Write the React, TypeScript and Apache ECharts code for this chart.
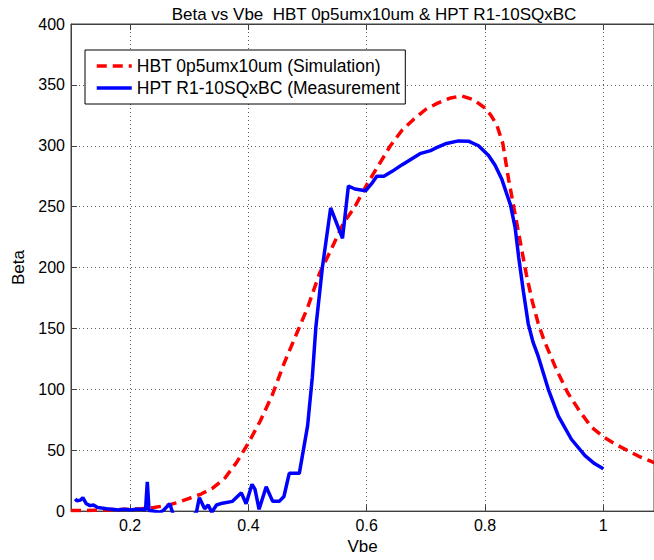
import React, { useEffect, useRef } from "react";
import * as echarts from "echarts";

const titleText = "Beta vs Vbe  HBT 0p5umx10um & HPT R1-10SQxBC";
const xAxisName = "Vbe";
const yAxisName = "Beta";
const seriesNames = ["HBT 0p5umx10um (Simulation)", "HPT R1-10SQxBC (Measurement"];

const xTickValues = [0.2, 0.4, 0.6, 0.8, 1.0];
const yTickStep = 50;

const simVbe = [
  0.1, 0.12, 0.14, 0.16, 0.18, 0.2, 0.22, 0.24, 0.26, 0.28, 0.3, 0.32, 0.34, 0.36, 0.38, 0.4,
  0.42, 0.44, 0.46, 0.48, 0.5, 0.52, 0.54, 0.56, 0.58, 0.6, 0.62, 0.64, 0.66, 0.68, 0.7, 0.72,
  0.74, 0.76, 0.78, 0.8, 0.81, 0.82, 0.83, 0.84, 0.85, 0.86, 0.87, 0.88, 0.89, 0.9, 0.92, 0.94,
  0.96, 0.98, 1.0, 1.02, 1.04, 1.06, 1.08, 1.1,
];
const simBeta = [
  0.4, 0.5, 0.7, 0.9, 1.2, 1.5, 2, 3, 4.5, 7, 10.5, 14, 19, 27, 40, 56,
  74, 95, 121, 144, 167, 195, 215, 236, 250, 268, 284, 300, 313, 322, 330, 335,
  339, 341, 338, 331, 325, 317, 302, 272, 246, 220, 194, 172, 154, 140, 117, 97,
  82, 69, 61, 55, 50, 45, 41, 37,
];

const measVbe = [
  0.107, 0.11, 0.116, 0.12, 0.126, 0.132, 0.138, 0.145, 0.152, 0.16, 0.17, 0.18, 0.19, 0.2,
  0.21, 0.22, 0.226, 0.229, 0.232, 0.24, 0.25, 0.256, 0.267, 0.275, 0.3, 0.312, 0.317, 0.326,
  0.332, 0.338, 0.346, 0.356, 0.373, 0.388, 0.396, 0.406, 0.411, 0.418, 0.43, 0.441, 0.452,
  0.46, 0.469, 0.486, 0.5, 0.508, 0.514, 0.525, 0.539, 0.559, 0.569, 0.58, 0.598, 0.61, 0.617,
  0.629, 0.643, 0.66, 0.675, 0.69, 0.708, 0.716, 0.733, 0.755, 0.772, 0.789, 0.806, 0.817,
  0.828, 0.843, 0.851, 0.857, 0.865, 0.873, 0.881, 0.89, 0.907, 0.924, 0.946, 0.969, 0.985, 1.0,
];
const measBeta = [
  10, 8.5, 9, 11, 6, 4.5, 5, 3, 2.5, 2, 1.5, 1, 1.5, 1,
  1.5, 1.5, 1, 24, 0.5, 0, -1, 0.5, 6, -6, -6, -1, 11, 2,
  5, -1, 5, 6.5, 8, 15, 6, 22, 18, 1.5, 20, 8, 8,
  12, 31, 31, 70, 110, 151, 200, 249, 224, 267, 264.5, 263, 270, 275,
  275, 279, 284.5, 289, 293.5, 296, 298, 301.6, 304, 303.8, 300, 292, 284,
  273, 251.5, 232.5, 208, 180, 154, 139, 127, 100, 78, 59, 45.5, 39, 34.7,
];

const FONT = "'Liberation Sans', Arial, Helvetica, sans-serif";

export default function App() {
  const ref = useRef<HTMLDivElement>(null);

  useEffect(() => {
    document.body.style.margin = "0";
    if (!ref.current) return;
    const chart = echarts.init(ref.current, undefined, { renderer: "svg" });

    const simData = simVbe.map((v, i) => [v, simBeta[i]]);
    const measData = measVbe.map((v, i) => [v, measBeta[i]]);

    const gridLeft = 71;
    const gridWidth = 585;
    const pxPerUnit = 593.5;
    const xMin = 0.1;
    const xMax = xMin + gridWidth / pxPerUnit;

    const axisColor = "#404040";
    const gridLineStyle = { color: "#606060", type: [1, 3] as any, width: 1 };

    chart.setOption({
      animation: false,
      backgroundColor: "#fff",
      textStyle: { fontFamily: FONT },
      title: {
        text: titleText,
        left: 369,
        top: 1,
        textAlign: "center",
        textStyle: { fontSize: 17, fontWeight: "normal", color: "#000", fontFamily: FONT },
      },
      legend: {
        orient: "vertical",
        left: 85,
        top: 50,
        itemWidth: 35,
        itemHeight: 17,
        itemGap: 4,
        padding: [7, 5, 7, 10],
        borderColor: "#000",
        borderWidth: 1,
        backgroundColor: "#fff",
        itemStyle: { opacity: 0 },
        lineStyle: { width: 3.5 },
        textStyle: { fontSize: 17.5, color: "#000", fontFamily: FONT },
        data: seriesNames,
      },
      grid: {
        left: gridLeft,
        top: 24,
        width: gridWidth,
        height: 492,
        show: true,
        borderColor: axisColor,
        borderWidth: 1,
        backgroundColor: "#fff",
      },
      xAxis: [
        {
          type: "value",
          min: xMin,
          max: xMax,
          name: xAxisName,
          nameLocation: "middle",
          nameGap: 26,
          nameTextStyle: { fontSize: 17, color: "#000", fontFamily: FONT },
          axisLine: { show: true, lineStyle: { color: axisColor } },
          axisTick: { show: true, inside: true, length: 6, customValues: xTickValues, lineStyle: { color: axisColor } },
          axisLabel: {
            customValues: xTickValues,
            fontSize: 16,
            color: "#000",
            margin: 6,
            fontFamily: FONT,
            formatter: (v: number) => String(parseFloat(v.toFixed(2))),
          },
          splitLine: { show: true, lineStyle: gridLineStyle },
        },
        {
          type: "value",
          position: "top",
          min: xMin,
          max: xMax,
          axisLine: { show: true, lineStyle: { color: axisColor } },
          axisTick: { show: true, inside: true, length: 6, customValues: xTickValues, lineStyle: { color: axisColor } },
          axisLabel: { show: false },
          splitLine: { show: false },
        },
      ],
      yAxis: {
        type: "value",
        min: 0,
        max: 400,
        interval: yTickStep,
        name: yAxisName,
        nameLocation: "middle",
        nameGap: 40,
        nameTextStyle: { fontSize: 17, color: "#000", fontFamily: FONT },
        axisLine: { show: true, lineStyle: { color: axisColor } },
        axisTick: { show: true, inside: true, length: 6, lineStyle: { color: axisColor } },
        axisLabel: { fontSize: 16, color: "#000", margin: 6, fontFamily: FONT },
        splitLine: { show: true, lineStyle: gridLineStyle },
      },
      series: [
        {
          name: seriesNames[0],
          type: "line",
          data: simData,
          showSymbol: false,
          symbol: "none",
          smooth: false,
          clip: true,
          lineStyle: { color: "#ff0000", width: 3.5, type: [10, 6] },
          itemStyle: { color: "#ff0000" },
        },
        {
          name: seriesNames[1],
          type: "line",
          data: measData,
          showSymbol: false,
          symbol: "none",
          smooth: false,
          clip: true,
          lineStyle: { color: "#0000ff", width: 3.5, type: "solid" },
          itemStyle: { color: "#0000ff" },
        },
      ],
    });

    return () => {
      chart.dispose();
    };
  }, []);

  return (
    <div
      ref={ref}
      style={{ position: "absolute", left: 0, top: 0, width: 654, height: 560 }}
    />
  );
}
